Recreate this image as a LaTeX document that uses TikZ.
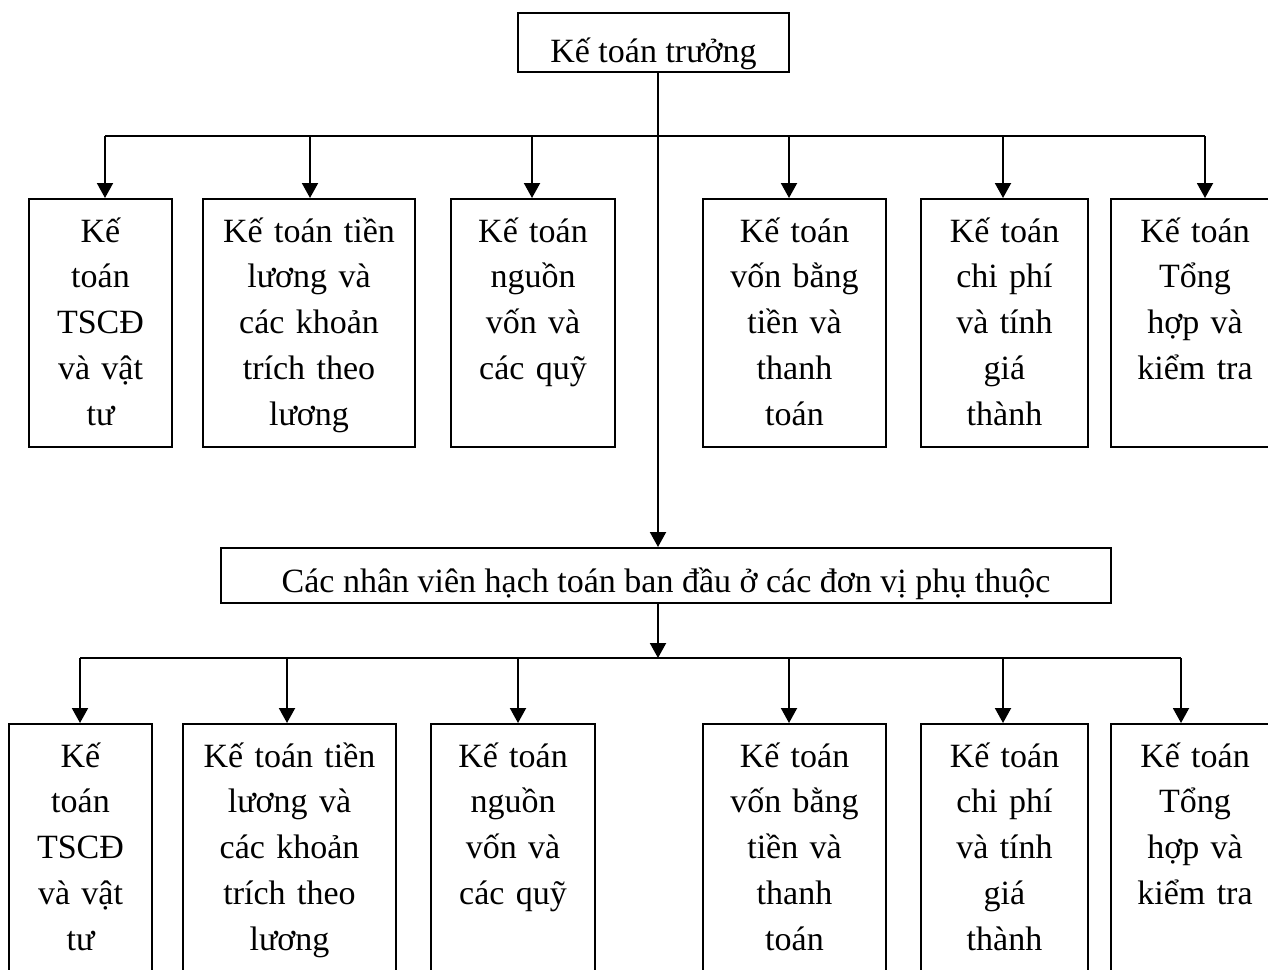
\documentclass[tikz,border=0pt]{standalone}
\usepackage{fontspec}
\setmainfont{Liberation Serif}
\usetikzlibrary{arrows.meta}

\begin{document}
\begin{tikzpicture}[x=0.5pt,y=-0.5pt,
  font=\fontsize{17pt}{22.9pt}\selectfont,
  wire/.style={line width=1pt},
  arr/.style={line width=1pt,-{Triangle[length=7.5pt,width=8pt]}},
  unitbox/.style={draw,line width=1pt,rectangle,anchor=north west,
    inner xsep=0pt,inner ysep=0pt,align=center,text height=21.5pt},
  upperbox/.style={unitbox,text depth=102.5pt},
  lowerbox/.style={unitbox,text depth=160pt}]

\clip (0,0) rectangle (1268,969);

% chief accountant and the field staff
\node[draw,line width=1pt,minimum width=135.5pt,minimum height=29.5pt,
  inner sep=0pt,text height=24.5pt,text depth=5pt] (chief) at (653.5,42.5) {Kế toán trưởng};
\node[draw,line width=1pt,minimum width=445pt,inner sep=0pt,
  text height=22pt,text depth=5.5pt,anchor=north west] (staff) at (220,547)
  {Các nhân viên hạch toán ban đầu ở các đơn vị phụ thuộc};

% upper row of accounting sections
\node[upperbox,text width=71.5pt] (u1) at (28,198) {Kế\\toán\\TSCĐ\\và vật\\tư};
\node[upperbox,text width=106pt] (u2) at (202,198) {Kế toán tiền\\lương và\\các khoản\\trích theo\\lương};
\node[upperbox,text width=82pt] (u3) at (450,198) {Kế toán\\nguồn\\vốn và\\các quỹ};
\node[upperbox,text width=91.5pt] (u4) at (702,198) {Kế toán\\vốn bằng\\tiền và\\thanh\\toán};
\node[upperbox,text width=83.5pt] (u5) at (920,198) {Kế toán\\chi phí\\và tính\\giá\\thành};
\node[upperbox,text width=84pt] (u6) at (1110,198) {Kế toán\\Tổng\\hợp và\\kiểm tra};

% lower row of accounting sections
\node[lowerbox,text width=71.5pt] (l1) at (8,723) {Kế\\toán\\TSCĐ\\và vật\\tư};
\node[lowerbox,text width=106.5pt] (l2) at (182,723) {Kế toán tiền\\lương và\\các khoản\\trích theo\\lương};
\node[lowerbox,text width=82pt] (l3) at (430,723) {Kế toán\\nguồn\\vốn và\\các quỹ};
\node[lowerbox,text width=91.5pt] (l4) at (702,723) {Kế toán\\vốn bằng\\tiền và\\thanh\\toán};
\node[lowerbox,text width=83.5pt] (l5) at (920,723) {Kế toán\\chi phí\\và tính\\giá\\thành};
\node[lowerbox,text width=84pt] (l6) at (1110,723) {Kế toán\\Tổng\\hợp và\\kiểm tra};

% trunk line
\coordinate (trunk) at (658,0);
\draw[arr] (chief.south -| trunk) -- (staff.north -| trunk);

% upper distribution bus
\coordinate (ua) at (105,136);
\coordinate (ub) at (310,136);
\coordinate (uc) at (532,136);
\coordinate (ud) at (789,136);
\coordinate (ue) at (1003,136);
\coordinate (uf) at (1205,136);
\draw[wire] (ua) -- (uf);
\draw[arr] (ua) -- (ua |- u1.north);
\draw[arr] (ub) -- (ub |- u2.north);
\draw[arr] (uc) -- (uc |- u3.north);
\draw[arr] (ud) -- (ud |- u4.north);
\draw[arr] (ue) -- (ue |- u5.north);
\draw[arr] (uf) -- (uf |- u6.north);

% lower distribution bus
\coordinate (la) at (80,658);
\coordinate (lb) at (287,658);
\coordinate (lc) at (518,658);
\coordinate (ld) at (789,658);
\coordinate (le) at (1003,658);
\coordinate (lf) at (1181,658);
\coordinate (lmid) at (658,658);
\draw[arr] (staff.south -| trunk) -- (lmid);
\draw[wire] (la) -- (lf);
\draw[arr] (la) -- (la |- l1.north);
\draw[arr] (lb) -- (lb |- l2.north);
\draw[arr] (lc) -- (lc |- l3.north);
\draw[arr] (ld) -- (ld |- l4.north);
\draw[arr] (le) -- (le |- l5.north);
\draw[arr] (lf) -- (lf |- l6.north);
\end{tikzpicture}
\end{document}
